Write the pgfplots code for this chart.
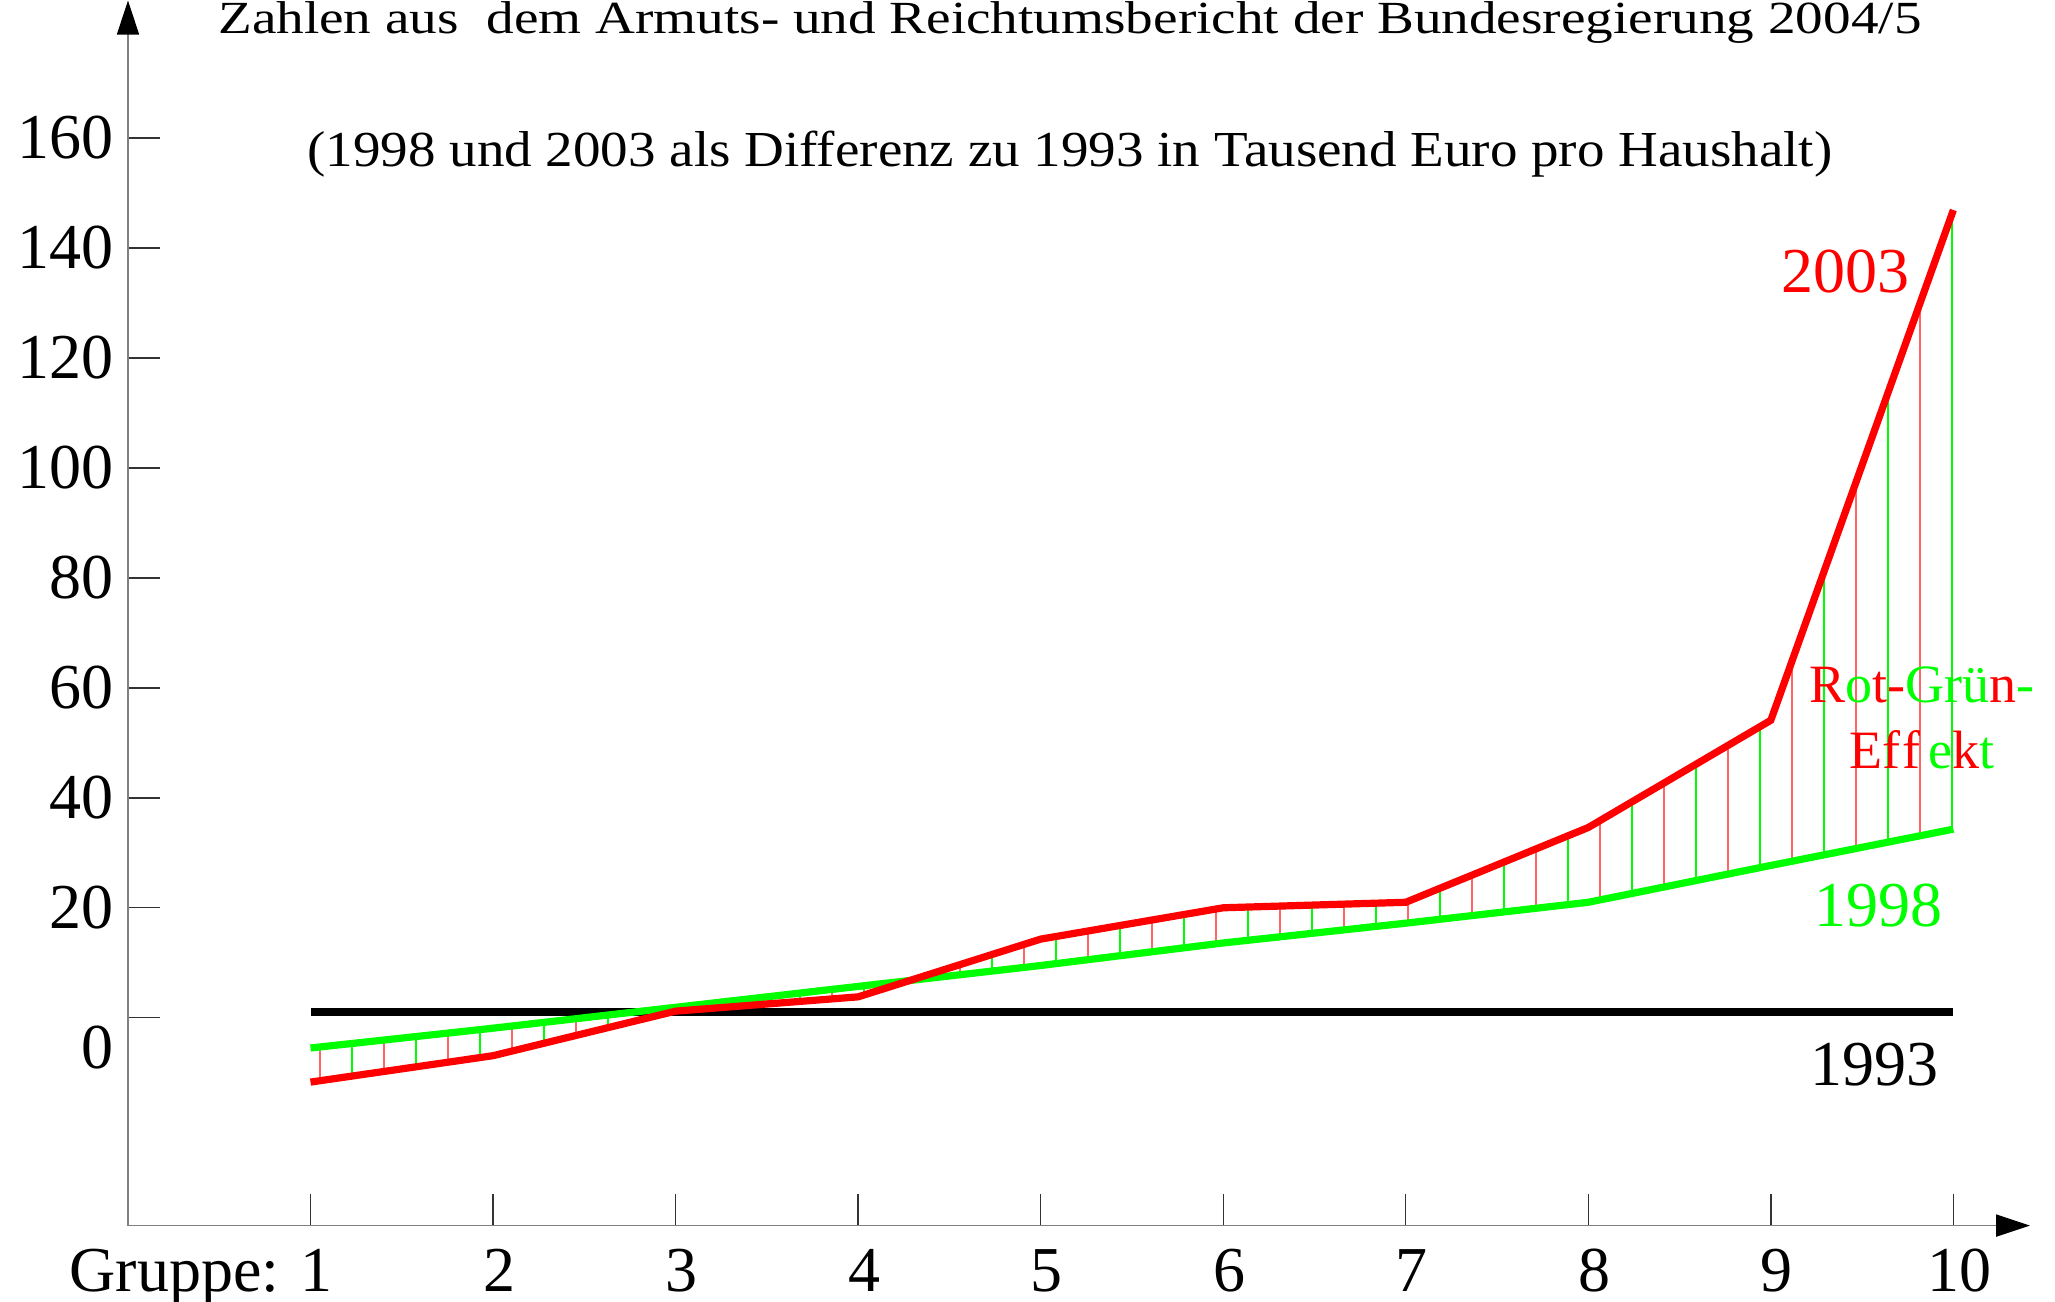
\documentclass[border=0pt]{standalone}
\usepackage{pgfplots}
\pgfplotsset{compat=1.18}
\usepackage{graphicx}
\usepgfplotslibrary{fillbetween}
\usetikzlibrary{patterns.meta,arrows.meta}
\usepackage{fontspec}
\setmainfont{Liberation Serif}
\definecolor{rr}{RGB}{255,0,0}
\definecolor{gg}{RGB}{0,255,0}
\begin{document}
\begin{tikzpicture}
\begin{axis}[
  at={(0,0)}, anchor=south west,
  scale only axis, width=475.5pt, height=306.25pt,
  xmin=0, xmax=10.42, ymin=-37.8, ymax=185,
  axis x line=bottom, axis y line=left,
  axis line style={draw=black!50, line width=0.45pt, -{Triangle[length=8.5pt,width=5.5pt,black]}},
  xtick={1,...,10},
  xticklabels={\llap{Gruppe: }1,2,3,4,5,6,7,8,9,10},
  xticklabel style={anchor=base, yshift=-16.5pt, xshift=1.5pt},
  ytick={20,40,...,160},
  extra y ticks={0}, extra y tick labels={0},
  extra y tick style={yticklabel style={yshift=-7.5pt}},
  tick align=inside,
  tick style={black!80, line width=0.35pt},
  major tick length=8pt,
  tick label style={font=\fontsize{16}{16}\selectfont},
  /pgf/number format/assume math mode=true,
  clip=false,
]
\addplot[name path=red, draw=none, forget plot] coordinates {(1,-11.7)(2,-6.9)(3,1.2)(4,3.8)(5,14.3)(6,20.0)(7,21.0)(8,34.6)(9,54.1)(10,146.9)};
\addplot[name path=green, draw=none, forget plot] coordinates {(1,-5.5)(2,-1.9)(3,1.9)(4,5.7)(5,9.5)(6,13.6)(7,17.2)(8,21.0)(9,27.7)(10,34.3)};
\addplot[pattern={Lines[angle=90,distance=16pt,line width=0.3pt]}, pattern color=rr!60] fill between[of=red and green];
\addplot[pattern={Lines[angle=90,distance=16pt,line width=0.3pt,xshift=8pt]}, pattern color=gg] fill between[of=red and green];
\addplot[black, line width=2pt] coordinates {(1,1.0)(10,1.0)};
\addplot[gg, line width=1.8pt] coordinates {(1,-5.5)(2,-1.9)(3,1.9)(4,5.7)(5,9.5)(6,13.6)(7,17.2)(8,21.0)(9,27.7)(10,34.3)};
\addplot[rr, line width=1.8pt] coordinates {(1,-11.7)(2,-6.9)(3,1.2)(4,3.8)(5,14.3)(6,20.0)(7,21.0)(8,34.6)(9,54.1)(10,146.9)};
\node[anchor=base, inner sep=0pt, font=\fontsize{11.5}{11.5}\selectfont] at (axis cs:5.16,179) {\scalebox{1.2}[1]{Zahlen aus\ \ dem Armuts- und Reichtumsbericht der Bundesregierung 2004/5}};
\node[anchor=base, inner sep=0pt, font=\fontsize{12.6}{12.6}\selectfont] at (axis cs:5.16,154.9) {\scalebox{1.092}[1]{(1998 und 2003 als Differenz zu 1993 in Tausend Euro pro Haushalt)}};
\node[text=rr, font=\fontsize{16}{16}\selectfont] at (axis cs:9.41,135.7) {2003};
\node[text=gg, font=\fontsize{16}{16}\selectfont] at (axis cs:9.59,20.5) {1998};
\node[text=black, font=\fontsize{16}{16}\selectfont] at (axis cs:9.57,-8.6) {1993};
\node[anchor=base, inner sep=0pt, font=\fontsize{13.5}{13.5}\selectfont] at (axis cs:9.83,57.3) {\textcolor{rr}{R}\textcolor{gg}{o}\textcolor{rr}{t-}\textcolor{gg}{Grü}\textcolor{rr}{n}\textcolor{gg}{-}};
\node[anchor=base, inner sep=0pt, font=\fontsize{13.5}{13.5}\selectfont] at (axis cs:9.83,45.3) {\textcolor{rr}{Ef\kern0.5pt f}\kern2pt\textcolor{gg}{e}\textcolor{rr}{k}\textcolor{gg}{t}};
\end{axis}
\pgfresetboundingbox
\path[use as bounding box] (-32pt,-19.1pt) rectangle (481.75pt,306.4pt);
\end{tikzpicture}
\end{document}
